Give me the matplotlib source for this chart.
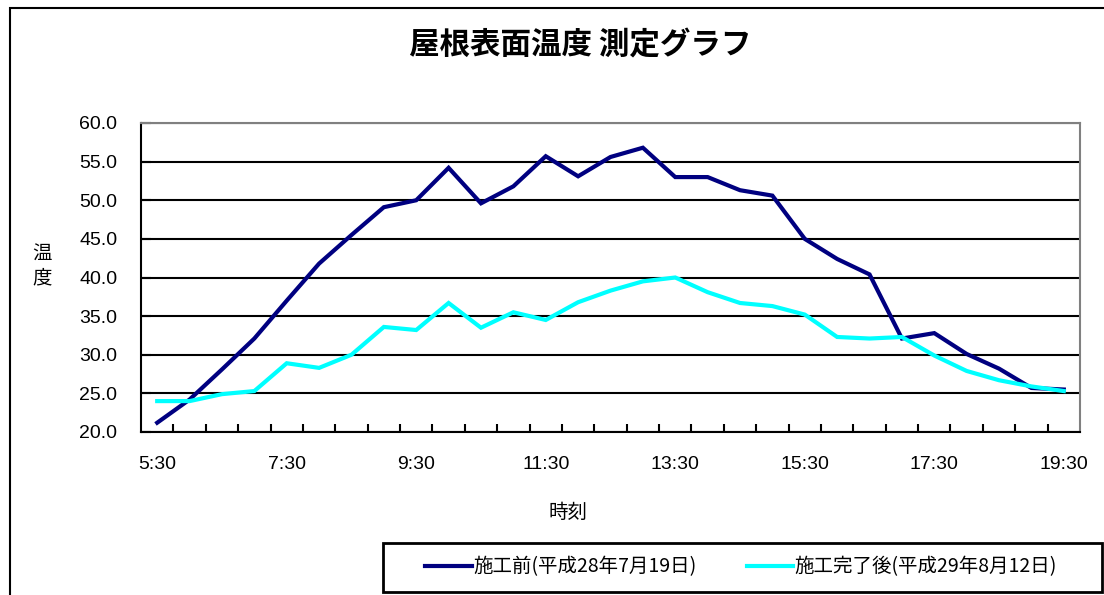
import matplotlib
matplotlib.use('Agg')
import matplotlib.pyplot as plt
from matplotlib.patches import Rectangle
import numpy as np

plt.rcParams['font.family'] = ['Noto Sans CJK JP', 'DejaVu Sans']

# 30-minute readings, 5:30 - 19:30
times = ['5:30', '6:00', '6:30', '7:00', '7:30', '8:00', '8:30', '9:00', '9:30', '10:00',
         '10:30', '11:00', '11:30', '12:00', '12:30', '13:00', '13:30', '14:00', '14:30',
         '15:00', '15:30', '16:00', '16:30', '17:00', '17:30', '18:00', '18:30', '19:00', '19:30']
before = [21.2, 24.2, 28.1, 32.1, 37.0, 41.8, 45.5, 49.1, 50.0, 54.2,
          49.6, 51.8, 55.7, 53.1, 55.6, 56.8, 53.0, 53.0, 51.3, 50.6,
          45.0, 42.4, 40.4, 32.1, 32.8, 30.1, 28.2, 25.7, 25.5]
after = [24.0, 24.0, 24.9, 25.3, 28.9, 28.3, 30.0, 33.6, 33.2, 36.7,
         33.5, 35.5, 34.5, 36.8, 38.3, 39.5, 40.0, 38.1, 36.7, 36.3,
         35.2, 32.3, 32.1, 32.3, 29.9, 27.9, 26.7, 25.9, 25.3]
label_before = '施工前(平成28年7月19日)'
label_after = '施工完了後(平成29年8月12日)'
yticks = [20, 25, 30, 35, 40, 45, 50, 55, 60]

W, H = 1104, 595
fig = plt.figure(figsize=(W / 100, H / 100), dpi=100)
ax = fig.add_axes([141 / W, 1 - 432 / H, (1080 - 141) / W, (432 - 123) / H])

x = np.arange(len(times))
ax.plot(x, before, color='#000080', lw=3, label=label_before, solid_joinstyle='miter', zorder=3)
ax.plot(x, after, color='#00FFFF', lw=3, label=label_after, solid_joinstyle='miter', zorder=4)

ax.set_xlim(-0.5, len(times) - 0.5)
ax.set_ylim(20, 60)
ax.set_yticks(yticks)
ax.set_yticklabels(['%.1f' % v for v in yticks], fontfamily='Liberation Sans', fontsize=14)
ax.yaxis.grid(True, color='black', lw=1.5)
ax.set_axisbelow(True)

ax.set_xticks(x[::4])
ax.set_xticklabels(times[::4], fontfamily='Liberation Sans', fontsize=14)
ax.set_xticks(np.arange(0.5, len(times) - 1, 1), minor=True)
ax.tick_params(axis='x', which='major', length=0, pad=17)
ax.tick_params(axis='x', which='minor', direction='in', length=6, width=1.5)
ax.tick_params(axis='y', direction='in', length=7, width=1.5, pad=17)

for s in ['top', 'right']:
    ax.spines[s].set_color('#808080')
    ax.spines[s].set_linewidth(1.5)
for s in ['left', 'bottom']:
    ax.spines[s].set_color('black')
    ax.spines[s].set_linewidth(1.5)

fig.text(580 / W, 1 - 45 / H, '屋根表面温度 測定グラフ', ha='center', va='center',
         fontsize=22, fontweight='bold')
fig.text(42 / W, 1 - 266 / H, '温\n度', ha='center', va='center', fontsize=14, linespacing=1.15)
fig.text(568 / W, 1 - 512 / H, '時刻', ha='center', va='center', fontsize=14)

# legend box
fig.patches.append(Rectangle((383 / W, 1 - 592 / H), (1102 - 383) / W, 49 / H,
                             transform=fig.transFigure, fill=False, edgecolor='black', lw=2))
leg = fig.legend(loc='center', ncol=2, bbox_to_anchor=(741 / W, 1 - 567 / H),
                 fontsize=14, handlelength=2.4, handletextpad=0.05, columnspacing=2.6,
                 frameon=False, borderaxespad=0, borderpad=0)

# outer chart border
fig.patches.append(Rectangle((10 / W, -0.1), 1.2, 1 - 8 / H + 0.1, transform=fig.transFigure,
                             fill=False, edgecolor='black', lw=1.5))

fig.savefig('out.png', dpi=100)
